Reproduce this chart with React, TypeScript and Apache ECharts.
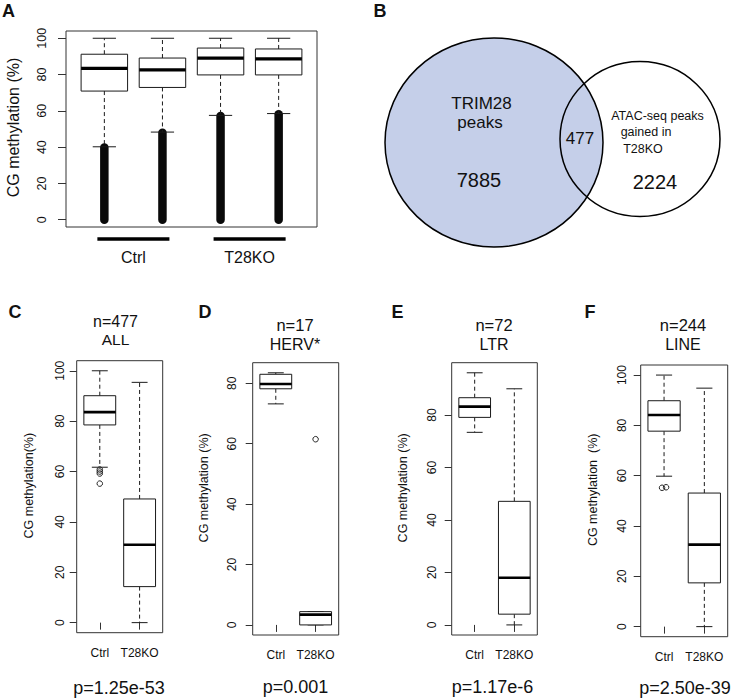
import React, { useEffect, useRef } from "react";
import * as echarts from "echarts";

const FONT = "'Liberation Sans', Arial, Helvetica, sans-serif";
const INK = "#1a1a1a";

// ---------- Panel A: genome-wide CG methylation ----------
const aPositions = [1, 2, 3, 4];
const aLowerWhisker = [40.2, 48.3, 57.5, 58.5];
const aQ1 = [70.9, 72.9, 79.8, 79.8];
const aMedian = [83.4, 82.6, 89.0, 88.6];
const aQ3 = [91.2, 89.1, 94.6, 94.1];
const aUpperWhisker = [100, 100, 100, 100];
const aOutlierMin = [0, 0, 0, 0];
const aOutlierMax = [39.8, 47.9, 57.1, 58.1];
const aGroupLabels = ["Ctrl", "T28KO"];
const aGroupFirst = [1, 3];
const aGroupLast = [2, 4];
const aYTicks = [0, 20, 40, 60, 80, 100];

// ---------- Panel B: Venn ----------
const vennLeftLabel = ["TRIM28", "peaks"];
const vennRightLabel = ["ATAC-seq peaks", "gained in", "T28KO"];
const vennLeftOnly = "7885";
const vennOverlap = "477";
const vennRightOnly = "2224";

// ---------- Panels C-F ----------
const boxCategories = ["Ctrl", "T28KO"];
const boxPositions = [1, 2];

const cTitle = ["n=477", "ALL"];
const cPValue = "p=1.25e-53";
const cMin = [61.7, 0];
const cQ1 = [78.5, 14.3];
const cMedian = [83.6, 30.9];
const cQ3 = [90.1, 49.1];
const cMax = [100, 95.4];
const cOutliers = [[1, 60.8], [1, 60.0], [1, 59.2], [1, 55.2]];
const cYTicks = [0, 20, 40, 60, 80, 100];

const dTitle = ["n=17", "HERV*"];
const dPValue = "p=0.001";
const dMin = [73.2, 0];
const dQ1 = [78.2, 0];
const dMedian = [79.8, 3.4];
const dQ3 = [83.0, 4.4];
const dMax = [83.5, 4.4];
const dOutliers = [[2, 61.5]];
const dYTicks = [0, 20, 40, 60, 80];

const eTitle = ["n=72", "LTR"];
const ePValue = "p=1.17e-6";
const eMin = [73.4, 0];
const eQ1 = [79.1, 4.1];
const eMedian = [83.2, 18.0];
const eQ3 = [86.6, 47.1];
const eMax = [96.1, 90.0];
const eOutliers: number[][] = [];
const eYTicks = [0, 20, 40, 60, 80];

const fTitle = ["n=244", "LINE"];
const fPValue = "p=2.50e-39";
const fMin = [59.8, 0];
const fQ1 = [77.7, 17.4];
const fMedian = [84.1, 32.6];
const fQ3 = [89.8, 53.1];
const fMax = [100, 94.8];
const fOutliers = [[0.95, 55.2], [1.05, 55.4]];
const fYTicks = [0, 20, 40, 60, 80, 100];

// ---------- helpers ----------
const BOX_WEX = 0.8;

function paddedRange(vals: number[]) {
  const lo = Math.min(...vals);
  const hi = Math.max(...vals);
  const s = hi - lo;
  return [lo - 0.04 * s, hi + 0.04 * s];
}
function xRange(n: number) {
  return [0.5 - 0.04 * n, n + 0.5 + 0.04 * n];
}

function makeBoxRenderer(medianWidth: number) {
  return (params: any, api: any) => {
    const pos = api.value(0);
    const mn = api.value(1);
    const q1 = api.value(2);
    const md = api.value(3);
    const q3 = api.value(4);
    const mx = api.value(5);
    const xl = api.coord([pos - BOX_WEX / 2, q1])[0];
    const xr = api.coord([pos + BOX_WEX / 2, q1])[0];
    const xc = (xl + xr) / 2;
    const cap = (xr - xl) / 4;
    const Y = (v: number) => api.coord([pos, v])[1];
    const kids: any[] = [];
    const dashed = { stroke: INK, lineWidth: 1, lineDash: [4, 3] };
    const solid = { stroke: INK, lineWidth: 1 };
    if (mx > q3)
      kids.push({ type: "line", shape: { x1: xc, y1: Y(q3), x2: xc, y2: Y(mx) }, style: dashed });
    if (mn < q1)
      kids.push({ type: "line", shape: { x1: xc, y1: Y(q1), x2: xc, y2: Y(mn) }, style: dashed });
    kids.push({ type: "line", shape: { x1: xc - cap, y1: Y(mx), x2: xc + cap, y2: Y(mx) }, style: solid });
    kids.push({ type: "line", shape: { x1: xc - cap, y1: Y(mn), x2: xc + cap, y2: Y(mn) }, style: solid });
    kids.push({
      type: "rect",
      shape: { x: xl, y: Y(q3), width: xr - xl, height: Y(q1) - Y(q3) },
      style: { fill: "#fff", stroke: INK, lineWidth: 1 },
    });
    kids.push({
      type: "line",
      shape: { x1: xl, y1: Y(md), x2: xr, y2: Y(md) },
      style: { stroke: "#000", lineWidth: medianWidth },
    });
    return { type: "group", children: kids };
  };
}

function boxData(pos: number[], mn: number[], q1: number[], md: number[], q3: number[], mx: number[]) {
  return pos.map((p, i) => [p, mn[i], q1[i], md[i], q3[i], mx[i]]);
}

type Panel = {
  grid: { left: number; top: number; width: number; height: number };
  min: number[];
  q1: number[];
  median: number[];
  q3: number[];
  max: number[];
  outliers: number[][];
  yTicks: number[];
  yLabelMargin: number;
  title: string[];
  titleX: number;
  titleY: number[];
  titleSize: number;
  pValue: string;
  pX: number;
  pY: number;
  axisTitle: string;
  axisTitleX: number;
  letter: string;
  letterX: number;
};

const smallPanels: Panel[] = [
  {
    grid: { left: 76.7, top: 360.7, width: 86, height: 272 },
    min: cMin, q1: cQ1, median: cMedian, q3: cQ3, max: cMax, outliers: cOutliers, yTicks: cYTicks,
    yLabelMargin: 11, title: cTitle, titleX: 115.5, titleY: [321.5, 339], titleSize: 15.5,
    pValue: cPValue, pX: 119, pY: 688,
    axisTitle: "CG methylation(%)", axisTitleX: 28.5, letter: "C", letterX: 15,
  },
  {
    grid: { left: 252.7, top: 362.7, width: 86, height: 272.3 },
    min: dMin, q1: dQ1, median: dMedian, q3: dQ3, max: dMax, outliers: dOutliers, yTicks: dYTicks,
    yLabelMargin: 15, title: dTitle, titleX: 295, titleY: [325, 344.5], titleSize: 16,
    pValue: dPValue, pX: 295.5, pY: 687,
    axisTitle: "CG methylation (%)", axisTitleX: 204, letter: "D", letterX: 205,
  },
  {
    grid: { left: 451.7, top: 362.7, width: 85.6, height: 272.3 },
    min: eMin, q1: eQ1, median: eMedian, q3: eQ3, max: eMax, outliers: eOutliers, yTicks: eYTicks,
    yLabelMargin: 14, title: eTitle, titleX: 494, titleY: [325, 344.5], titleSize: 16,
    pValue: ePValue, pX: 492.5, pY: 687,
    axisTitle: "CG methylation (%)", axisTitleX: 402.5, letter: "E", letterX: 397.5,
  },
  {
    grid: { left: 640.7, top: 365, width: 87, height: 271.7 },
    min: fMin, q1: fQ1, median: fMedian, q3: fQ3, max: fMax, outliers: fOutliers, yTicks: fYTicks,
    yLabelMargin: 13, title: fTitle, titleX: 683, titleY: [325, 344.5], titleSize: 16,
    pValue: fPValue, pX: 685, pY: 688,
    axisTitle: "CG methylation  (%)", axisTitleX: 592.5, letter: "F", letterX: 590,
  },
];

function text(x: number, y: number, t: string, size: number, extra: any = {}) {
  return {
    type: "text",
    x,
    y,
    silent: true,
    ...extra,
    style: {
      text: t,
      fontSize: size,
      lineHeight: size,
      fontFamily: FONT,
      fill: "#111",
      align: "center",
      verticalAlign: "middle",
      ...(extra.style || {}),
    },
  };
}

function buildOption() {
  const grids: any[] = [];
  const xAxes: any[] = [];
  const yAxes: any[] = [];
  const series: any[] = [];
  const graphic: any[] = [];

  const gridStyle = { show: true, borderColor: "#333", borderWidth: 1, backgroundColor: "transparent", containLabel: false, outerBoundsMode: "none" };
  const tickLabel = (size: number) => ({ fontSize: size, fontFamily: FONT, color: "#111" });

  // ----- Panel A -----
  const aRangeY = paddedRange([...aOutlierMin, ...aUpperWhisker]);
  const aRangeX = xRange(aPositions.length);
  const aCenters = aGroupFirst.map((f, i) => (f + aGroupLast[i]) / 2);
  grids.push({ ...gridStyle, left: 66, top: 31, width: 251, height: 196 });
  xAxes.push({
    type: "value", gridIndex: 0, min: aRangeX[0], max: aRangeX[1],
    axisLine: { show: false }, splitLine: { show: false },
    axisTick: { show: true, length: 3, customValues: aPositions, lineStyle: { color: "#333" } },
    axisLabel: {
      ...tickLabel(16), margin: 22, customValues: aCenters,
      formatter: (v: number) => aGroupLabels[aCenters.findIndex((c) => Math.abs(c - v) < 1e-6)] ?? "",
    },
  });
  yAxes.push({
    type: "value", gridIndex: 0, min: aRangeY[0], max: aRangeY[1],
    axisLine: { show: false }, splitLine: { show: false },
    axisTick: { show: true, length: 8, customValues: aYTicks, lineStyle: { color: "#333" } },
    axisLabel: { ...tickLabel(12.5), rotate: 90, margin: 18, customValues: aYTicks },
  });
  series.push({
    type: "custom", xAxisIndex: 0, yAxisIndex: 0, silent: true, clip: false,
    data: aPositions.map((p, i) => [p, aOutlierMin[i], aOutlierMax[i]]),
    renderItem: (params: any, api: any) => {
      const pos = api.value(0);
      const p1 = api.coord([pos, api.value(1)]);
      const p2 = api.coord([pos, api.value(2)]);
      return {
        type: "line",
        shape: { x1: p1[0], y1: p1[1], x2: p2[0], y2: p2[1] },
        style: { stroke: "#0a0a0a", lineWidth: 8.5, lineCap: "round" },
      };
    },
  });
  series.push({
    type: "custom", xAxisIndex: 0, yAxisIndex: 0, silent: true, clip: false,
    data: boxData(aPositions, aLowerWhisker, aQ1, aMedian, aQ3, aUpperWhisker),
    renderItem: makeBoxRenderer(3.2),
  });
  series.push({
    type: "custom", xAxisIndex: 0, yAxisIndex: 0, silent: true, clip: false,
    data: aGroupFirst.map((f, i) => [f, aGroupLast[i]]),
    renderItem: (params: any, api: any) => {
      const a = api.coord([api.value(0) - 0.12, aRangeY[0]]);
      const b = api.coord([api.value(1) + 0.12, aRangeY[0]]);
      const y = a[1] + 12;
      return {
        type: "line",
        shape: { x1: a[0], y1: y, x2: b[0], y2: y },
        style: { stroke: "#000", lineWidth: 3.6 },
      };
    },
  });
  graphic.push(text(13, 127.5, "CG methylation (%)", 16, { rotation: Math.PI / 2 }));
  graphic.push(text(8.5, 10.5, "A", 18, { style: { fontWeight: "bold" } }));

  // ----- Panel B: Venn -----
  graphic.push({
    type: "ellipse", silent: true,
    shape: { cx: 494, cy: 142.5, rx: 109, ry: 104.5 },
    style: { fill: "#c5cfe9", stroke: "#000", lineWidth: 1.5 },
  });
  graphic.push({
    type: "ellipse", silent: true,
    shape: { cx: 640, cy: 139, rx: 80, ry: 77.5 },
    style: { fill: "none", stroke: "#000", lineWidth: 1.5 },
  });
  graphic.push(text(481.5, 103.5, vennLeftLabel[0], 17));
  graphic.push(text(480, 122.5, vennLeftLabel[1], 17));
  graphic.push(text(479, 180, vennLeftOnly, 20));
  graphic.push(text(580, 138.5, vennOverlap, 17));
  graphic.push(text(657.5, 115.5, vennRightLabel[0], 12.5));
  graphic.push(text(646, 132, vennRightLabel[1], 12.5));
  graphic.push(text(643, 148.5, vennRightLabel[2], 12.5));
  graphic.push(text(655, 181.5, vennRightOnly, 20));
  graphic.push(text(380, 10.5, "B", 18, { style: { fontWeight: "bold" } }));

  // ----- Panels C-F -----
  smallPanels.forEach((p, k) => {
    const gi = k + 1;
    const yr = paddedRange([...p.min, ...p.max, ...p.outliers.map((o) => o[1])]);
    const xr = xRange(boxCategories.length);
    grids.push({ ...gridStyle, ...p.grid });
    xAxes.push({
      type: "value", gridIndex: gi, min: xr[0], max: xr[1],
      axisLine: { show: false }, splitLine: { show: false },
      axisTick: { show: true, length: 7, customValues: boxPositions, lineStyle: { color: "#333" } },
      axisLabel: {
        ...tickLabel(12), margin: 14, customValues: boxPositions,
        formatter: (v: number) => boxCategories[Math.round(v) - 1] ?? "",
      },
    });
    yAxes.push({
      type: "value", gridIndex: gi, min: yr[0], max: yr[1],
      axisLine: { show: false }, splitLine: { show: false },
      axisTick: { show: true, length: 7, customValues: p.yTicks, lineStyle: { color: "#333" } },
      axisLabel: { ...tickLabel(12), rotate: 90, margin: p.yLabelMargin, customValues: p.yTicks },
    });
    series.push({
      type: "custom", xAxisIndex: gi, yAxisIndex: gi, silent: true, clip: false,
      data: boxData(boxPositions, p.min, p.q1, p.median, p.q3, p.max),
      renderItem: makeBoxRenderer(2.6),
    });
    if (p.outliers.length) {
      series.push({
        type: "scatter", xAxisIndex: gi, yAxisIndex: gi, silent: true,
        data: p.outliers,
        symbol: "circle", symbolSize: 5.5,
        itemStyle: { color: "rgba(255,255,255,0)", borderColor: "#222", borderWidth: 1, opacity: 1 },
      });
    }
    const cy = p.grid.top + p.grid.height / 2 - 11;
    graphic.push(text(p.axisTitleX, cy, p.axisTitle, 12.5, { rotation: Math.PI / 2 }));
    graphic.push(text(p.titleX, p.titleY[0], p.title[0], p.titleSize + 0.5));
    graphic.push(text(p.titleX, p.titleY[1], p.title[1], p.titleSize));
    graphic.push(text(p.pX, p.pY, p.pValue, 18));
    graphic.push(text(p.letterX, 312, p.letter, 18, { style: { fontWeight: "bold" } }));
  });

  return {
    animation: false,
    backgroundColor: "#fff",
    grid: grids,
    xAxis: xAxes,
    yAxis: yAxes,
    series,
    graphic: { elements: graphic },
  };
}

export default function App() {
  const ref = useRef<HTMLDivElement>(null);
  useEffect(() => {
    if (!ref.current) return;
    const chart = echarts.init(ref.current, null, { renderer: "svg" });
    chart.setOption(buildOption() as any);
    return () => chart.dispose();
  }, []);
  return (
    <div
      ref={ref}
      style={{ position: "fixed", left: 0, top: 0, width: 733, height: 700, background: "#fff" }}
    />
  );
}
